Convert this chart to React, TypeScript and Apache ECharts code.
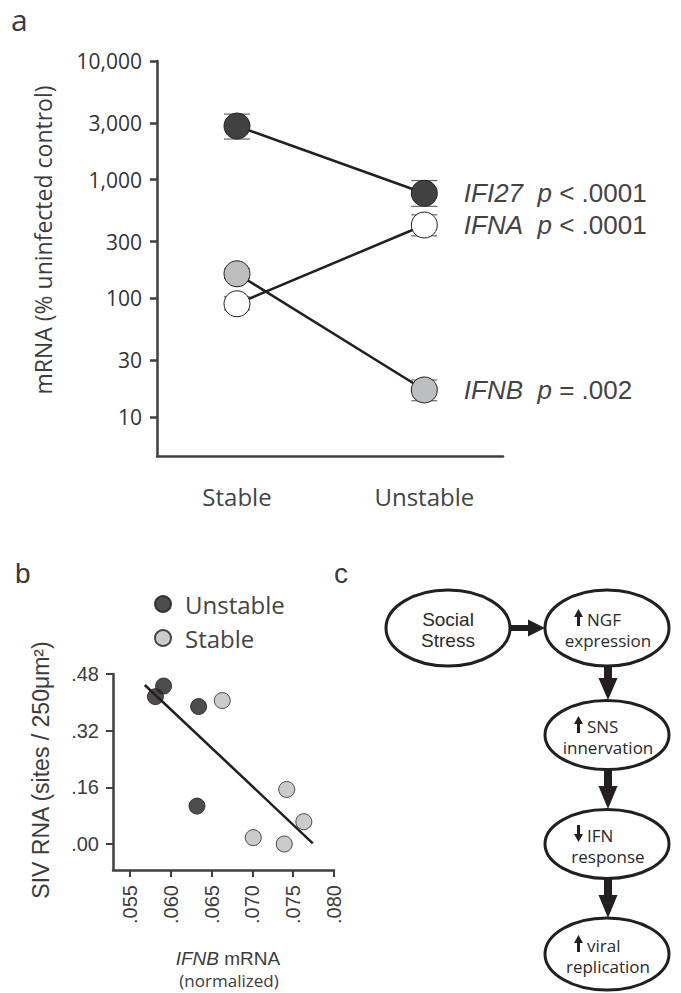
import React, { useEffect, useRef } from "react";
import * as echarts from "echarts";

// ---------- Panel a data ----------
const groups = ["Stable", "Unstable"];
const genes = ["IFI27", "IFNA", "IFNB"];
const ifi27Mean = [2830, 768];
const ifi27Low = [2200, 597];
const ifi27High = [3570, 981];
const ifnaMean = [90, 415];
const ifnaLow = [80, 336];
const ifnaHigh = [103, 505];
const ifnbMean = [161, 16.9];
const ifnbLow = [147, 13.7];
const ifnbHigh = [177, 20.5];
const pTexts = ["< .0001", "< .0001", "= .002"];
const geneFills = ["#414143", "#ffffff", "#bdbec0"];
const yTicksA = [10, 30, 100, 300, 1000, 3000, 10000];

// ---------- Panel b data ----------
const unstableX = [0.0581, 0.0591, 0.0634, 0.0632];
const unstableY = [0.416, 0.446, 0.388, 0.107];
const stableX = [0.0663, 0.0742, 0.0763, 0.0701, 0.0739];
const stableY = [0.405, 0.154, 0.063, 0.018, 0.0];
const fitX = [0.0568, 0.0774];
const fitY = [0.449, 0.002];
const xTicksB = [0.055, 0.06, 0.065, 0.07, 0.075, 0.08];
const yTicksB = [0, 0.16, 0.32, 0.48];

// ---------- Panel c text ----------
const flowLine1 = ["Social", "NGF", "SNS", "IFN", "viral"];
const flowLine2 = ["Stress", "expression", "innervation", "response", "replication"];
const flowDir = ["", "up", "up", "down", "up"];

const INK = "#231f20";
const TXT = "#3c3c3c";
const MYRIAD = "'Open Sans', 'Noto Sans', sans-serif";
const ARIAL = "'Liberation Sans', Arial, sans-serif";

const log10 = (v: number) => Math.log10(v);

function buildOption() {
  const means = [ifi27Mean, ifnaMean, ifnbMean];
  const lows = [ifi27Low, ifnaLow, ifnbLow];
  const highs = [ifi27High, ifnaHigh, ifnbHigh];

  const lineSeries = genes.map((g, gi) => ({
    type: "line",
    name: g,
    xAxisIndex: 0,
    yAxisIndex: 0,
    z: 3,
    symbol: "circle",
    symbolSize: 26,
    itemStyle: { color: geneFills[gi], borderColor: INK, borderWidth: 1 },
    lineStyle: { color: INK, width: 2.5 },
    emphasis: { disabled: true },
    data: groups.map((_, i) => ({
      value: [i, log10(means[gi][i])],
      label:
        i === 1
          ? {
              show: true,
              position: "right",
              distance: 26,
              formatter: () => `{i|${g}}  {i|p} ${pTexts[gi]}`,
              fontFamily: ARIAL,
              fontSize: 26,
              color: "#444",
              rich: {
                i: { fontStyle: "italic", fontFamily: ARIAL, fontSize: 26, color: "#444" },
              },
            }
          : { show: false },
    })),
  }));

  const errData: number[][] = [];
  genes.forEach((_, gi) => {
    groups.forEach((_, i) => {
      errData.push([i, log10(lows[gi][i]), log10(highs[gi][i])]);
    });
  });

  const errSeries = {
    type: "custom",
    name: "err",
    xAxisIndex: 0,
    yAxisIndex: 0,
    z: 1,
    encode: { x: 0, y: [1, 2] },
    data: errData,
    renderItem: (params: any, api: any) => {
      const lo = api.coord([api.value(0), api.value(1)]);
      const hi = api.coord([api.value(0), api.value(2)]);
      const hw = 13;
      const st = { stroke: "#4a4a4a", lineWidth: 1 };
      return {
        type: "group",
        children: [
          { type: "line", shape: { x1: lo[0], y1: lo[1], x2: hi[0], y2: hi[1] }, style: st },
          { type: "line", shape: { x1: lo[0] - hw, y1: lo[1], x2: lo[0] + hw, y2: lo[1] }, style: st },
          { type: "line", shape: { x1: hi[0] - hw, y1: hi[1], x2: hi[0] + hw, y2: hi[1] }, style: st },
        ],
      };
    },
  };

  const scatterUnstable = {
    type: "scatter",
    name: "Unstable",
    xAxisIndex: 1,
    yAxisIndex: 1,
    z: 3,
    symbol: "circle",
    symbolSize: 16,
    itemStyle: { color: INK, borderColor: INK, borderWidth: 1 },
    data: unstableX.map((x, i) => [x, unstableY[i]]),
  };
  const scatterStable = {
    type: "scatter",
    name: "Stable",
    xAxisIndex: 1,
    yAxisIndex: 1,
    z: 3,
    symbol: "circle",
    symbolSize: 16,
    itemStyle: { color: "#bdbec0", borderColor: INK, borderWidth: 1 },
    data: stableX.map((x, i) => [x, stableY[i]]),
  };
  const fitSeries = {
    type: "line",
    name: "fit",
    xAxisIndex: 1,
    yAxisIndex: 1,
    z: 2,
    showSymbol: false,
    symbol: "none",
    lineStyle: { color: INK, width: 2.5 },
    data: fitX.map((x, i) => [x, fitY[i]]),
  };

  // ---------- Panel c graphics ----------
  const ellipses = [
    { cx: 448, cy: 628, rx: 62, ry: 38 },
    { cx: 607, cy: 628, rx: 62, ry: 38 },
    { cx: 607, cy: 735, rx: 62, ry: 34.5 },
    { cx: 607, cy: 844, rx: 62, ry: 34.5 },
    { cx: 607, cy: 954, rx: 62, ry: 36 },
  ];
  const graphics: any[] = [];
  const vArrow = (cx: number, y0: number, yh: number, y1: number) => ({
    type: "polygon",
    shape: {
      points: [
        [cx - 4, y0],
        [cx + 4, y0],
        [cx + 4, yh],
        [cx + 9.5, yh],
        [cx, y1],
        [cx - 9.5, yh],
        [cx - 4, yh],
      ],
    },
    style: { fill: INK },
  });
  graphics.push({
    type: "polygon",
    shape: {
      points: [
        [510, 625],
        [528, 625],
        [528, 619.5],
        [545, 628],
        [528, 636.5],
        [528, 631],
        [510, 631],
      ],
    },
    style: { fill: INK },
  });
  graphics.push(vArrow(608, 666, 678, 700));
  graphics.push(vArrow(608, 769, 786, 809));
  graphics.push(vArrow(608, 878, 895, 918));

  ellipses.forEach((e, i) => {
    graphics.push({
      type: "ellipse",
      shape: { cx: e.cx, cy: e.cy, rx: e.rx, ry: e.ry },
      style: { fill: "#fff", stroke: INK, lineWidth: 3 },
      z: 10,
    });
    if (i === 0) {
      graphics.push({
        type: "text",
        z: 11,
        style: {
          text: flowLine1[i] + "\n" + flowLine2[i],
          x: e.cx,
          y: e.cy + 2,
          align: "center",
          verticalAlign: "middle",
          fontFamily: ARIAL,
          fontSize: 19,
          lineHeight: 21,
          fill: "#2a2a2a",
        },
      });
    } else {
      const ax = 578.5;
      const top = e.cy - 19;
      const bot = e.cy - 2;
      const up = flowDir[i] === "up";
      const tipY = up ? top : bot;
      const baseY = up ? bot : top;
      const headY = up ? top + 8 : bot - 8;
      graphics.push({
        type: "polygon",
        z: 11,
        shape: {
          points: [
            [ax, tipY],
            [ax + 4.5, headY],
            [ax + 1.5, headY],
            [ax + 1.5, baseY],
            [ax - 1.5, baseY],
            [ax - 1.5, headY],
            [ax - 4.5, headY],
          ],
        },
        style: { fill: INK },
      });
      graphics.push({
        type: "text",
        z: 11,
        style: {
          text: flowLine1[i],
          x: 587,
          y: e.cy - 9,
          align: "left",
          verticalAlign: "middle",
          fontFamily: MYRIAD,
          fontSize: 17,
          fill: "#2a2a2a",
        },
      });
      graphics.push({
        type: "text",
        z: 11,
        style: {
          text: flowLine2[i],
          x: e.cx + 1,
          y: e.cy + 12,
          align: "center",
          verticalAlign: "middle",
          fontFamily: MYRIAD,
          fontSize: 17,
          fill: "#2a2a2a",
        },
      });
    }
  });

  // Panel letters and axis titles
  graphics.push(
    { type: "text", style: { text: "a", x: 11, y: 19, verticalAlign: "middle", fontFamily: MYRIAD, fontSize: 30, fill: "#3a3a3a" } },
    { type: "text", style: { text: "b", x: 15, y: 573, verticalAlign: "middle", fontFamily: ARIAL, fontSize: 28, fill: "#3a3a3a" } },
    { type: "text", style: { text: "c", x: 334, y: 573, verticalAlign: "middle", fontFamily: ARIAL, fontSize: 28, fill: "#3a3a3a" } },
    {
      type: "text",
      x: 43,
      y: 240,
      rotation: Math.PI / 2,
      style: { text: "mRNA (% uninfected control)", align: "center", verticalAlign: "middle", fontFamily: MYRIAD, fontSize: 23, fill: TXT },
    },
    {
      type: "text",
      x: 41,
      y: 770,
      rotation: Math.PI / 2,
      style: { text: "SIV RNA (sites / 250μm²)", align: "center", verticalAlign: "middle", fontFamily: ARIAL, fontSize: 23, fill: TXT },
    },
    {
      type: "text",
      style: {
        text: "{i|IFNB} mRNA",
        x: 228,
        y: 958,
        align: "center",
        verticalAlign: "middle",
        fontFamily: ARIAL,
        fontSize: 19,
        fill: TXT,
        rich: { i: { fontStyle: "italic", fontFamily: ARIAL, fontSize: 19, fill: TXT, color: TXT } },
      },
    },
    {
      type: "text",
      style: { text: "(normalized)", x: 229, y: 980, align: "center", verticalAlign: "middle", fontFamily: MYRIAD, fontSize: 17, fill: TXT },
    }
  );

  const axisLine = { show: true, onZero: false, lineStyle: { color: "#3f3f3f", width: 2.5 } };

  return {
    animation: false,
    backgroundColor: "#ffffff",
    grid: [
      { left: 157, top: 61, width: 346, height: 395, outerBoundsMode: "none", containLabel: false },
      { left: 113, top: 674, width: 221, height: 196, outerBoundsMode: "none", containLabel: false },
    ],
    legend: {
      data: ["Unstable", "Stable"],
      orient: "vertical",
      left: 154,
      top: 592,
      padding: 0,
      itemWidth: 34,
      itemHeight: 16,
      itemGap: 10,
      icon: "circle",
      selectedMode: false,
      textStyle: { fontFamily: MYRIAD, fontSize: 24, color: "#444" },
    },
    xAxis: [
      {
        type: "value",
        gridIndex: 0,
        min: -0.427,
        max: 1.42,
        axisLine,
        axisTick: { show: false },
        splitLine: { show: false },
        axisLabel: {
          customValues: [0, 1],
          formatter: (v: number) => groups[Math.round(v)],
          margin: 28,
          fontFamily: MYRIAD,
          fontSize: 24,
          color: "#444",
        },
      },
      {
        type: "value",
        gridIndex: 1,
        min: 0.0529,
        max: 0.08,
        axisLine,
        axisTick: { show: true, customValues: xTicksB, length: 7, lineStyle: { color: "#3f3f3f", width: 2 } },
        splitLine: { show: false },
        axisLabel: {
          customValues: xTicksB,
          rotate: 90,
          formatter: (v: number) => v.toFixed(3).replace(/^0/, ""),
          margin: 15,
          fontFamily: ARIAL,
          fontSize: 20,
          color: TXT,
        },
      },
    ],
    yAxis: [
      {
        type: "value",
        gridIndex: 0,
        min: 0.6714,
        max: 4,
        axisLine,
        axisTick: { show: true, customValues: yTicksA.map(log10), length: 7, lineStyle: { color: "#3f3f3f", width: 2.5 } },
        splitLine: { show: false },
        axisLabel: {
          customValues: yTicksA.map(log10),
          formatter: (v: number) => Math.round(Math.pow(10, v)).toLocaleString("en-US"),
          margin: 15,
          fontFamily: MYRIAD,
          fontSize: 21,
          color: "#333",
        },
      },
      {
        type: "value",
        gridIndex: 1,
        min: -0.0734,
        max: 0.48,
        axisLine,
        axisTick: { show: true, customValues: yTicksB, length: 7, lineStyle: { color: "#3f3f3f", width: 2 } },
        splitLine: { show: false },
        axisLabel: {
          customValues: yTicksB,
          formatter: (v: number) => v.toFixed(2).replace(/^0/, ""),
          margin: 14,
          fontFamily: ARIAL,
          fontSize: 20,
          color: TXT,
        },
      },
    ],
    series: [errSeries, ...lineSeries, fitSeries, scatterUnstable, scatterStable],
    graphic: graphics,
  };
}

export default function App() {
  const ref = useRef<HTMLDivElement>(null);
  useEffect(() => {
    if (!ref.current) return;
    const chart = echarts.init(ref.current, null, { renderer: "svg", width: 681, height: 993 });
    chart.setOption(buildOption() as any);
    return () => chart.dispose();
  }, []);
  return (
    <div
      ref={ref}
      style={{ position: "absolute", left: 0, top: 0, width: 681, height: 993, background: "#fff" }}
    />
  );
}
